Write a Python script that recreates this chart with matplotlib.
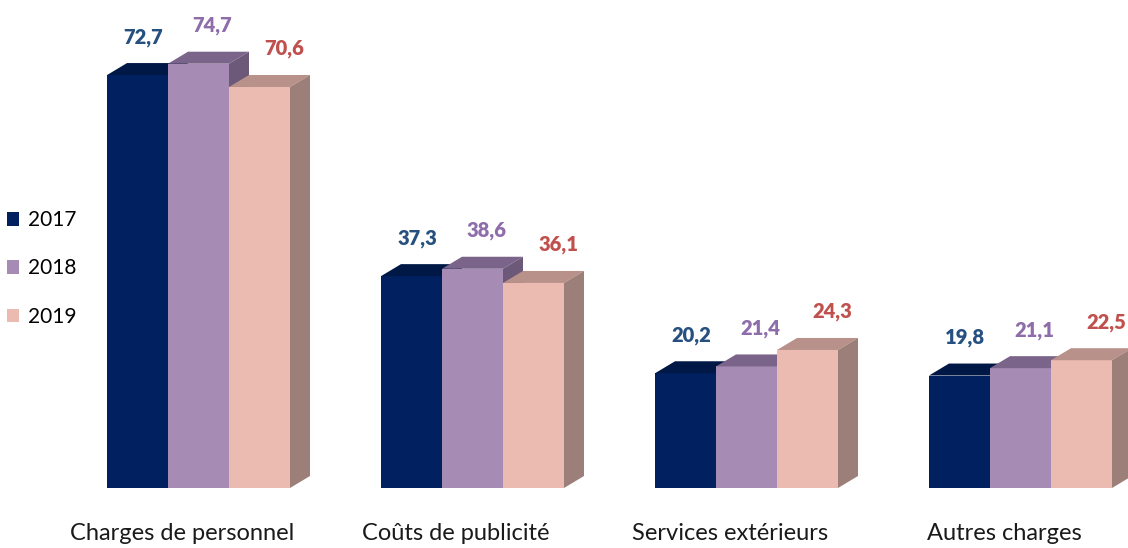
import numpy as np
import matplotlib.pyplot as plt
from matplotlib.patches import Polygon, Patch

categories = ['Charges de personnel', 'Coûts de publicité', 'Services extérieurs', 'Autres charges']
years = ['2017', '2018', '2019']
values = {
    '2017': [72.7, 37.3, 20.2, 19.8],
    '2018': [74.7, 38.6, 21.4, 21.1],
    '2019': [70.6, 36.1, 24.3, 22.5],
}

front = {'2017': '#002060', '2018': '#A68BB5', '2019': '#EBBAB1'}
top = {'2017': '#001845', '2018': '#7B6489', '2019': '#B8918A'}
side = {'2017': '#00143A', '2018': '#6C5879', '2019': '#9C7F78'}
label_col = {'2017': '#25507F', '2018': '#8E6DAA', '2019': '#C0504D'}
label_dx = {'2017': 0.02, '2018': 0.05, '2019': 0.09}

W, H = 1128, 548
fig = plt.figure(figsize=(W / 100, H / 100), dpi=100)
# axes: value 0 at 60 px from bottom, 5.68 px per unit; 274 px per group
px_per_unit = 5.68
group_px = 274
ax = fig.add_axes([0, 60 / H, 1, (H - 60) / H])
x0c = 198.5 / group_px
ax.set_xlim(-x0c, W / group_px - x0c)
ax.set_ylim(0, (H - 60) / px_per_unit)
ax.axis('off')

bw = 61 / group_px
dx = 20 / group_px
dy = 12 / px_per_unit

for i, cat in enumerate(categories):
    for j, yr in enumerate(years):
        h = values[yr][i]
        xl = i - 1.5 * bw + j * bw
        xr = xl + bw
        z = 10 + j
        ax.add_patch(Polygon([(xl, 0), (xr, 0), (xr, h), (xl, h)], closed=True,
                             facecolor=front[yr], edgecolor='none', zorder=z))
        ax.add_patch(Polygon([(xl, h), (xr, h), (xr + dx, h + dy), (xl + dx, h + dy)], closed=True,
                             facecolor=top[yr], edgecolor='none', zorder=z))
        ax.add_patch(Polygon([(xr, 0), (xr + dx, dy), (xr + dx, h + dy), (xr, h)], closed=True,
                             facecolor=side[yr], edgecolor='none', zorder=z))
        ax.text(xl + bw / 2 + label_dx[yr], h + 38 / px_per_unit, f'{h:.1f}'.replace('.', ','),
                ha='center', va='center', color=label_col[yr], fontsize=14.5,
                fontweight='heavy', family='Lato', zorder=30)
    ax.text(i - 0.06, -(60 - 14) / px_per_unit, cat, ha='center', va='center',
            fontsize=17, family='Lato', color='#1a1a1a', clip_on=False)

handles = [Patch(facecolor=front[yr], edgecolor='none', label=yr) for yr in years]
leg = ax.legend(handles=handles, loc='center left', bbox_to_anchor=(0.006, 0.45),
                borderaxespad=0, borderpad=0,
                frameon=False, handlelength=0.6, handleheight=0.6, handletextpad=0.4,
                labelspacing=1.35, prop={'family': 'Lato', 'size': 15})

fig.savefig('out.png', dpi=100)
